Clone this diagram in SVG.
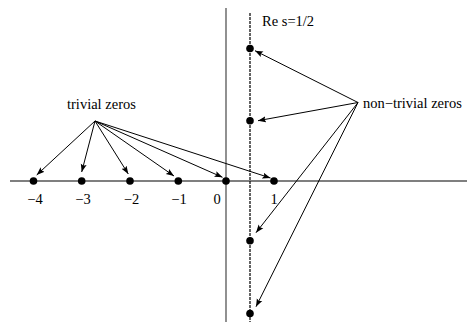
<svg xmlns="http://www.w3.org/2000/svg" width="470" height="322" viewBox="0 0 470 322">
<style>
.axis{stroke:#555;stroke-width:1.3;fill:none}
.crit{stroke:#111;stroke-width:1.3;stroke-dasharray:3 1;fill:none}
.arr{stroke:#000;stroke-width:1;fill:none;marker-end:url(#ah)}
.dot{fill:#000}
text{font-family:"Liberation Serif","Times New Roman",serif;font-size:14.5px;fill:#000}
.num{text-anchor:middle}
</style>
<defs>
<marker id="ah" markerUnits="userSpaceOnUse" markerWidth="10" markerHeight="8" refX="8" refY="4" orient="auto">
<path d="M0,1 L8,4 L0,7 L1.5,4 Z" fill="#000"/>
</marker>
</defs>
<g id="axes">
<line class="axis" x1="10" y1="181" x2="467" y2="181"/>
<line class="axis" x1="226" y1="8" x2="226" y2="322"/>
<line class="crit" x1="250" y1="13" x2="250" y2="322"/>
</g>
<g id="critical-label"><text x="262" y="25.5">Re s=1/2</text></g>
<g id="trivial-label"><text x="67" y="108.5">trivial zeros</text></g>
<g id="nontrivial-label"><text x="363" y="107.5">non−trivial zeros</text></g>
<g id="tick-labels">
<text class="num" x="35" y="204">−4</text>
<text class="num" x="83" y="204">−3</text>
<text class="num" x="131.5" y="204">−2</text>
<text class="num" x="179" y="204">−1</text>
<text class="num" x="217" y="204">0</text>
<text class="num" x="274" y="204">1</text>
</g>
<g id="zeros">
<circle class="dot" cx="33.5" cy="181" r="3.8"/>
<circle class="dot" cx="81.7" cy="181" r="3.8"/>
<circle class="dot" cx="130" cy="181" r="3.8"/>
<circle class="dot" cx="178.3" cy="181" r="3.8"/>
<circle class="dot" cx="226" cy="181" r="3.8"/>
<circle class="dot" cx="274" cy="181" r="3.8"/>
<circle class="dot" cx="250" cy="48.5" r="3.8"/>
<circle class="dot" cx="250" cy="120.7" r="3.8"/>
<circle class="dot" cx="250" cy="240.7" r="3.8"/>
<circle class="dot" cx="250" cy="313.5" r="3.8"/>
</g>
<g id="connectors">
<line class="arr" x1="95" y1="121" x2="36.7" y2="175"/>
<line class="arr" x1="95" y1="121" x2="81.7" y2="172"/>
<line class="arr" x1="95" y1="121" x2="128.3" y2="174"/>
<line class="arr" x1="95" y1="121" x2="174" y2="176"/>
<line class="arr" x1="95" y1="121" x2="222.5" y2="177.3"/>
<line class="arr" x1="95" y1="121" x2="270.5" y2="178"/>
<line class="arr" x1="358" y1="102.5" x2="255" y2="50.7"/>
<line class="arr" x1="358" y1="102.5" x2="258" y2="120.7"/>
<line class="arr" x1="358" y1="102.5" x2="256" y2="232.7"/>
<line class="arr" x1="358" y1="102.5" x2="256" y2="306.7"/>
</g>
</svg>
